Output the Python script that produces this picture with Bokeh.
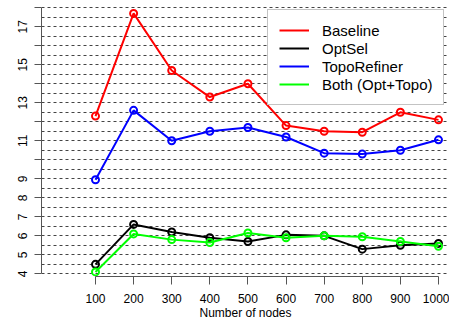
from bokeh.plotting import figure
from bokeh.models import Range1d, FixedTicker, Legend, LegendItem
from bokeh.embed import file_html
from bokeh.resources import INLINE

nodes = [100, 200, 300, 400, 500, 600, 700, 800, 900, 1000]
baseline = [12.3, 17.7, 14.7, 13.3, 14.0, 11.8, 11.5, 11.45, 12.5, 12.1]
optsel = [4.5, 6.6, 6.2, 5.9, 5.7, 6.05, 6.0, 5.3, 5.5, 5.6]
topo = [8.95, 12.6, 11.0, 11.5, 11.7, 11.2, 10.35, 10.3, 10.5, 11.05]
both = [4.1, 6.1, 5.8, 5.65, 6.15, 5.9, 6.0, 5.95, 5.7, 5.45]

y_ticks = list(range(4, 19))
y_labels = {t: (str(t) if (t <= 9 or t % 2 == 1) else "") for t in y_ticks}
grid_ticks = [4 + 0.5 * i for i in range(29)]

FONT = "Liberation Sans"

p = figure(width=449, height=322, x_range=Range1d(-41.7, 1028.9), y_range=Range1d(3.86, 18.38),
           output_backend="svg", toolbar_location=None,
           min_border_left=41, min_border_right=0, min_border_top=0, min_border_bottom=45)
p.outline_line_color = None
p.background_fill_color = "white"
p.border_fill_color = "white"

p.xgrid.visible = False
p.ygrid.ticker = FixedTicker(ticks=grid_ticks)
p.ygrid.grid_line_color = "#444444"
p.ygrid.grid_line_dash = "3 3"
p.ygrid.grid_line_width = 1

p.xaxis.ticker = FixedTicker(ticks=nodes)
p.xaxis.bounds = (100, 1000)
p.yaxis.ticker = FixedTicker(ticks=y_ticks)
p.yaxis.bounds = (4, 18)
p.yaxis.major_label_overrides = y_labels
p.yaxis.major_label_orientation = "vertical"

for ax in (p.xaxis, p.yaxis):
    ax.axis_line_color = "#555555"
    ax.major_tick_line_color = "#555555"
    ax.major_tick_in = 0
    ax.major_tick_out = 7
    ax.minor_tick_line_color = None
    ax.major_label_text_font = FONT
    ax.major_label_text_font_size = "12px"
    ax.major_label_text_color = "black"

p.xaxis.major_tick_out = 8
p.xaxis.major_label_standoff = 9
p.yaxis.major_label_standoff = 7
p.xaxis.axis_label = "Number of nodes"
p.xaxis.axis_label_text_font = FONT
p.xaxis.axis_label_text_font_size = "12px"
p.xaxis.axis_label_text_font_style = "normal"
p.xaxis.axis_label_text_color = "black"
p.xaxis.axis_label_standoff = 0

series = [("Baseline", baseline, "#FF0000"), ("OptSel", optsel, "#000000"),
          ("TopoRefiner", topo, "#0000FF"), ("Both (Opt+Topo)", both, "#00FF00")]
items = []
for name, vals, col in series:
    r = p.line(nodes, vals, line_color=col, line_width=2)
    p.scatter(nodes, vals, marker="circle", size=7, line_color=col, line_width=2, fill_color=None)
    items.append(LegendItem(label=name, renderers=[r]))

legend = Legend(items=items, location=(226, 171), padding=11, margin=0, spacing=0,
                label_standoff=13, glyph_width=30, glyph_height=18, label_height=18,
                label_text_font=FONT, label_text_font_size="15px", label_text_color="black",
                border_line_color="#888888", border_line_width=1,
                background_fill_color="white", background_fill_alpha=1.0)
p.add_layout(legend)

open("out.html", "w").write(file_html(p, INLINE))
